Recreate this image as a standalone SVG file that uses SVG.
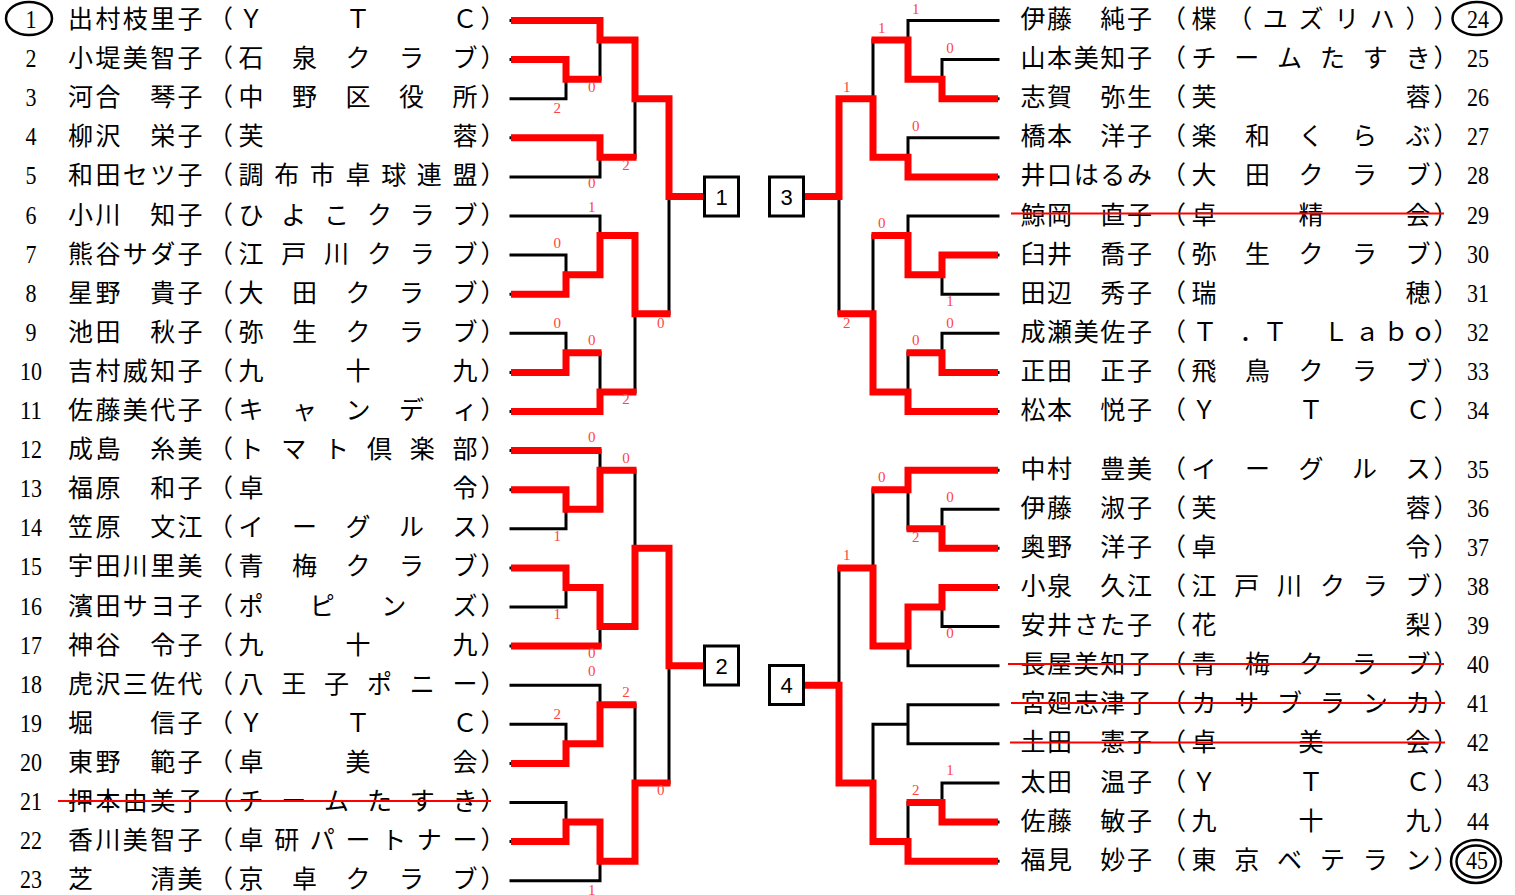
<svg xmlns="http://www.w3.org/2000/svg" width="1515" height="895" viewBox="0 0 1515 895">
<style>
.no{font-family:"Liberation Serif",serif;font-size:26px;fill:#000;text-anchor:middle}
.tx{font-family:"Liberation Serif","Noto Sans CJK JP",sans-serif;font-size:25px;fill:#000;text-anchor:middle}
.sc{font-family:"Liberation Serif",serif;font-size:15px;fill:#f44;text-anchor:middle}
.bx rect{fill:#fff;stroke:#000;stroke-width:3}
.bx text{font-family:"Liberation Sans",sans-serif;font-size:22px;fill:#000;text-anchor:middle}
.bk{stroke:#000;stroke-width:3;fill:none;stroke-linecap:square}
.rd{stroke:#f00;stroke-width:7;fill:none;stroke-linejoin:miter;stroke-linecap:butt}
.st{stroke:#f00;stroke-width:2}
.ring{fill:none;stroke:#000;stroke-width:2.5}
</style>
<rect width="1515" height="895" fill="#fff"/>
<g id="connectors">
<path class="bk" d="M511 20.5H600M511 59.6H566M511 98.7H566M511 137.8H600M511 176.9H600M511 216H600M511 255.1H566M511 294.2H566M511 333.3H566M511 372.4H566M511 411.5H600M511 450.6H600M511 489.7H566M511 528.8H566M511 567.9H566M511 607H566M511 646.1H600M511 685.2H600M511 724.3H566M511 763.4H566M511 802.5H566M511 841.6H566M511 880.7H600
M566 59.6V98.7M566 79.15H600M566 255.1V294.2M566 274.65H600M566 333.3V372.4M566 352.85H600M566 489.7V528.8M566 509.25H600M566 567.9V607M566 587.45H600M566 724.3V763.4M566 743.85H600M566 802.5V841.6M566 822.05H600
M600 20.5V79.15M600 40.05H635M600 137.8V176.9M600 157.35H635M600 216V274.65M600 235.55H635M600 352.85V411.5M600 391.95H635M600 450.6V509.25M600 470.15H635M600 587.45V646.1M600 626.55H635M600 685.2V743.85M600 704.75H635M600 822.05V880.7M600 861.15H635
M635 40.05V157.35M635 98.7H669M635 235.55V391.95M635 313.75H669M635 470.15V626.55M635 548.35H669M635 704.75V861.15M635 782.95H669
M669 98.7V313.75M669 196.45H704M669 548.35V782.95M669 665.65H704
M998 20.5H908M998 59.6H942M998 98.7H942M998 137.8H908M998 176.9H908M998 216H908M998 255.1H942M998 294.2H942M998 333.3H942M998 372.4H942M998 411.5H908M998 470.15H908M998 509.25H942M998 548.35H942M998 587.45H942M998 626.55H942M998 665.65H908M998 704.75H908M998 743.85H908M998 782.95H942M998 822.05H942M998 861.15H908
M942 59.6V98.7M942 79.15H908M942 255.1V294.2M942 274.65H908M942 333.3V372.4M942 352.85H908M942 509.25V548.35M942 528.8H908M942 587.45V626.55M942 607H908M942 782.95V822.05M942 802.5H908
M908 20.5V79.15M908 40.05H873M908 137.8V176.9M908 157.35H873M908 216V274.65M908 235.55H873M908 352.85V411.5M908 391.95H873M908 470.15V528.8M908 489.7H873M908 607V665.65M908 646.1H873M908 704.75V743.85M908 724.3H873M908 802.5V861.15M908 841.6H873
M873 40.05V157.35M873 98.7H839M873 235.55V391.95M873 313.75H839M873 489.7V646.1M873 567.9H839M873 724.3V841.6M873 782.95H839
M839 98.7V313.75M839 196.45H804M839 567.9V782.95M839 685.2H804"/>
<path class="rd" d="M511 20.5H600V40.05H635V98.7H669V196.45H704"/>
<path class="rd" d="M511 59.6H566V79.15H601.5"/>
<path class="rd" d="M511 137.8H600V157.35H636.5"/>
<path class="rd" d="M511 294.2H566V274.65H600V235.55H635V313.75H670.5"/>
<path class="rd" d="M511 372.4H566V352.85H601.5"/>
<path class="rd" d="M511 411.5H600V391.95H636.5"/>
<path class="rd" d="M511 450.6H601.5"/>
<path class="rd" d="M511 489.7H566V509.25H600V470.15H636.5"/>
<path class="rd" d="M511 567.9H566V587.45H600V626.55H635V548.35H669V665.65H704"/>
<path class="rd" d="M511 646.1H601.5"/>
<path class="rd" d="M511 763.4H566V743.85H600V704.75H636.5"/>
<path class="rd" d="M511 841.6H566V822.05H600V861.15H635V782.95H670.5"/>
<path class="rd" d="M998 98.7H942V79.15H908V40.05H871.5"/>
<path class="rd" d="M998 176.9H908V157.35H873V98.7H839V196.45H804"/>
<path class="rd" d="M998 255.1H942V274.65H908V235.55H871.5"/>
<path class="rd" d="M998 372.4H942V352.85H906.5"/>
<path class="rd" d="M998 411.5H908V391.95H873V313.75H837.5"/>
<path class="rd" d="M998 470.15H908V489.7H871.5"/>
<path class="rd" d="M998 548.35H942V528.8H906.5"/>
<path class="rd" d="M998 587.45H942V607H908V646.1H873V567.9H837.5"/>
<path class="rd" d="M998 822.05H942V802.5H906.5"/>
<path class="rd" d="M998 861.15H908V841.6H873V782.95H839V685.2H804"/>
<g id="scores">
<text class="sc" x="591.7" y="92.3">0</text><text class="sc" x="557.3" y="113.3">2</text><text class="sc" x="626" y="170">2</text><text class="sc" x="591.7" y="188.3">0</text><text class="sc" x="591.7" y="211.7">1</text><text class="sc" x="557.3" y="247.7">0</text><text class="sc" x="660.7" y="328.3">0</text><text class="sc" x="557.3" y="328.3">0</text><text class="sc" x="591.7" y="345">0</text><text class="sc" x="626" y="404">2</text><text class="sc" x="591.7" y="441.7">0</text><text class="sc" x="626" y="463.3">0</text><text class="sc" x="557.3" y="541">1</text><text class="sc" x="557.3" y="619.3">1</text><text class="sc" x="591.7" y="657.7">0</text><text class="sc" x="591.7" y="675.7">0</text><text class="sc" x="626" y="697.3">2</text><text class="sc" x="557.3" y="719">2</text><text class="sc" x="660.7" y="795">0</text><text class="sc" x="591.7" y="895">1</text>
<text class="sc" x="915.7" y="14.3">1</text><text class="sc" x="881.7" y="33.3">1</text><text class="sc" x="950" y="53.3">0</text><text class="sc" x="846.7" y="92.3">1</text><text class="sc" x="915.7" y="131">0</text><text class="sc" x="881.7" y="227.7">0</text><text class="sc" x="950" y="306">1</text><text class="sc" x="846.7" y="328.3">2</text><text class="sc" x="950" y="328.3">0</text><text class="sc" x="915.7" y="345">0</text><text class="sc" x="881.7" y="481.7">0</text><text class="sc" x="950" y="501.7">0</text><text class="sc" x="915.7" y="541.7">2</text><text class="sc" x="846.7" y="560">1</text><text class="sc" x="950" y="637.7">0</text><text class="sc" x="950" y="775">1</text><text class="sc" x="915.7" y="795">2</text>
</g>
</g>
<g id="box1" class="bx"><rect x="704.5" y="177" width="34" height="39"/><text x="721.5" y="204.5">1</text></g>
<g id="box2" class="bx"><rect x="704.5" y="646" width="34" height="39"/><text x="721.5" y="673.5">2</text></g>
<g id="box3" class="bx"><rect x="769.5" y="177" width="34" height="39"/><text x="786.5" y="204.5">3</text></g>
<g id="box4" class="bx"><rect x="769.5" y="665.5" width="34" height="39"/><text x="786.5" y="693">4</text></g>

<g id="p1"><ellipse class="ring" cx="29" cy="18.5" rx="23" ry="16.5"/><text class="no" x="31" y="28" textLength="11" lengthAdjust="spacingAndGlyphs">1</text><text class="tx" x="80.5 107.9 135.3 162.7 190.1 220.5 251 358 465 493" y="28">出村枝里子（ＹＴＣ）</text></g>
<g id="p2"><text class="no" x="31" y="67.1" textLength="11" lengthAdjust="spacingAndGlyphs">2</text><text class="tx" x="80.5 107.9 135.3 162.7 190.1 220.5 251 304.5 358 411.5 465 493" y="67.1">小堤美智子（石泉クラブ）</text></g>
<g id="p3"><text class="no" x="31" y="106.2" textLength="11" lengthAdjust="spacingAndGlyphs">3</text><text class="tx" x="80.5 107.9 135.3 162.7 190.1 220.5 251 304.5 358 411.5 465 493" y="106.2">河合　琴子（中野区役所）</text></g>
<g id="p4"><text class="no" x="31" y="145.3" textLength="11" lengthAdjust="spacingAndGlyphs">4</text><text class="tx" x="80.5 107.9 135.3 162.7 190.1 220.5 251 465 493" y="145.3">柳沢　栄子（芙蓉）</text></g>
<g id="p5"><text class="no" x="31" y="184.4" textLength="11" lengthAdjust="spacingAndGlyphs">5</text><text class="tx" x="80.5 107.9 135.3 162.7 190.1 220.5 251 286.7 322.3 358 393.7 429.3 465 493" y="184.4">和田セツ子（調布市卓球連盟）</text></g>
<g id="p6"><text class="no" x="31" y="223.5" textLength="11" lengthAdjust="spacingAndGlyphs">6</text><text class="tx" x="80.5 107.9 135.3 162.7 190.1 220.5 251 293.8 336.6 379.4 422.2 465 493" y="223.5">小川　知子（ひよこクラブ）</text></g>
<g id="p7"><text class="no" x="31" y="262.6" textLength="11" lengthAdjust="spacingAndGlyphs">7</text><text class="tx" x="80.5 107.9 135.3 162.7 190.1 220.5 251 293.8 336.6 379.4 422.2 465 493" y="262.6">熊谷サダ子（江戸川クラブ）</text></g>
<g id="p8"><text class="no" x="31" y="301.7" textLength="11" lengthAdjust="spacingAndGlyphs">8</text><text class="tx" x="80.5 107.9 135.3 162.7 190.1 220.5 251 304.5 358 411.5 465 493" y="301.7">星野　貴子（大田クラブ）</text></g>
<g id="p9"><text class="no" x="31" y="340.8" textLength="11" lengthAdjust="spacingAndGlyphs">9</text><text class="tx" x="80.5 107.9 135.3 162.7 190.1 220.5 251 304.5 358 411.5 465 493" y="340.8">池田　秋子（弥生クラブ）</text></g>
<g id="p10"><text class="no" x="31" y="379.9" textLength="22" lengthAdjust="spacingAndGlyphs">10</text><text class="tx" x="80.5 107.9 135.3 162.7 190.1 220.5 251 358 465 493" y="379.9">吉村威知子（九十九）</text></g>
<g id="p11"><text class="no" x="31" y="419" textLength="22" lengthAdjust="spacingAndGlyphs">11</text><text class="tx" x="80.5 107.9 135.3 162.7 190.1 220.5 251 304.5 358 411.5 465 493" y="419">佐藤美代子（キャンディ）</text></g>
<g id="p12"><text class="no" x="31" y="458.1" textLength="22" lengthAdjust="spacingAndGlyphs">12</text><text class="tx" x="80.5 107.9 135.3 162.7 190.1 220.5 251 293.8 336.6 379.4 422.2 465 493" y="458.1">成島　糸美（トマト倶楽部）</text></g>
<g id="p13"><text class="no" x="31" y="497.2" textLength="22" lengthAdjust="spacingAndGlyphs">13</text><text class="tx" x="80.5 107.9 135.3 162.7 190.1 220.5 251 465 493" y="497.2">福原　和子（卓令）</text></g>
<g id="p14"><text class="no" x="31" y="536.3" textLength="22" lengthAdjust="spacingAndGlyphs">14</text><text class="tx" x="80.5 107.9 135.3 162.7 190.1 220.5 251 304.5 358 411.5 465 493" y="536.3">笠原　文江（イーグルス）</text></g>
<g id="p15"><text class="no" x="31" y="575.4" textLength="22" lengthAdjust="spacingAndGlyphs">15</text><text class="tx" x="80.5 107.9 135.3 162.7 190.1 220.5 251 304.5 358 411.5 465 493" y="575.4">宇田川里美（青梅クラブ）</text></g>
<g id="p16"><text class="no" x="31" y="614.5" textLength="22" lengthAdjust="spacingAndGlyphs">16</text><text class="tx" x="80.5 107.9 135.3 162.7 190.1 220.5 251 322.3 393.7 465 493" y="614.5">濱田サヨ子（ポピンズ）</text></g>
<g id="p17"><text class="no" x="31" y="653.6" textLength="22" lengthAdjust="spacingAndGlyphs">17</text><text class="tx" x="80.5 107.9 135.3 162.7 190.1 220.5 251 358 465 493" y="653.6">神谷　令子（九十九）</text></g>
<g id="p18"><text class="no" x="31" y="692.7" textLength="22" lengthAdjust="spacingAndGlyphs">18</text><text class="tx" x="80.5 107.9 135.3 162.7 190.1 220.5 251 293.8 336.6 379.4 422.2 465 493" y="692.7">虎沢三佐代（八王子ポニー）</text></g>
<g id="p19"><text class="no" x="31" y="731.8" textLength="22" lengthAdjust="spacingAndGlyphs">19</text><text class="tx" x="80.5 107.9 135.3 162.7 190.1 220.5 251 358 465 493" y="731.8">堀　　信子（ＹＴＣ）</text></g>
<g id="p20"><text class="no" x="31" y="770.9" textLength="22" lengthAdjust="spacingAndGlyphs">20</text><text class="tx" x="80.5 107.9 135.3 162.7 190.1 220.5 251 358 465 493" y="770.9">東野　範子（卓美会）</text></g>
<g id="p21"><text class="no" x="31" y="810" textLength="22" lengthAdjust="spacingAndGlyphs">21</text><text class="tx" x="80.5 107.9 135.3 162.7 190.1 220.5 251 293.8 336.6 379.4 422.2 465 493" y="810">押本由美子（チームたすき）</text><line class="st" x1="58" y1="801" x2="491" y2="801"/></g>
<g id="p22"><text class="no" x="31" y="849.1" textLength="22" lengthAdjust="spacingAndGlyphs">22</text><text class="tx" x="80.5 107.9 135.3 162.7 190.1 220.5 251 286.7 322.3 358 393.7 429.3 465 493" y="849.1">香川美智子（卓研パートナー）</text></g>
<g id="p23"><text class="no" x="31" y="888.2" textLength="22" lengthAdjust="spacingAndGlyphs">23</text><text class="tx" x="80.5 107.9 135.3 162.7 190.1 220.5 251 304.5 358 411.5 465 493" y="888.2">芝　　清美（京卓クラブ）</text></g>

<g id="p24"><ellipse class="ring" cx="1477" cy="18.5" rx="24.5" ry="16.5"/><text class="no" x="1478" y="28" textLength="22" lengthAdjust="spacingAndGlyphs">24</text><text class="tx" x="1033 1059.6 1086.2 1112.8 1139.4 1173.5 1204 1239.7 1275.3 1311 1346.7 1382.3 1418 1446" y="28">伊藤　純子（楪（ユズリハ））</text></g>
<g id="p25"><text class="no" x="1478" y="67.1" textLength="22" lengthAdjust="spacingAndGlyphs">25</text><text class="tx" x="1033 1059.6 1086.2 1112.8 1139.4 1173.5 1204 1246.8 1289.6 1332.4 1375.2 1418 1446" y="67.1">山本美知子（チームたすき）</text></g>
<g id="p26"><text class="no" x="1478" y="106.2" textLength="22" lengthAdjust="spacingAndGlyphs">26</text><text class="tx" x="1033 1059.6 1086.2 1112.8 1139.4 1173.5 1204 1418 1446" y="106.2">志賀　弥生（芙蓉）</text></g>
<g id="p27"><text class="no" x="1478" y="145.3" textLength="22" lengthAdjust="spacingAndGlyphs">27</text><text class="tx" x="1033 1059.6 1086.2 1112.8 1139.4 1173.5 1204 1257.5 1311 1364.5 1418 1446" y="145.3">橋本　洋子（楽和くらぶ）</text></g>
<g id="p28"><text class="no" x="1478" y="184.4" textLength="22" lengthAdjust="spacingAndGlyphs">28</text><text class="tx" x="1033 1059.6 1086.2 1112.8 1139.4 1173.5 1204 1257.5 1311 1364.5 1418 1446" y="184.4">井口はるみ（大田クラブ）</text></g>
<g id="p29"><text class="no" x="1478" y="223.5" textLength="22" lengthAdjust="spacingAndGlyphs">29</text><text class="tx" x="1033 1059.6 1086.2 1112.8 1139.4 1173.5 1204 1311 1418 1446" y="223.5">鯨岡　直子（卓精会）</text><line class="st" x1="1011" y1="213.5" x2="1444" y2="213.5"/></g>
<g id="p30"><text class="no" x="1478" y="262.6" textLength="22" lengthAdjust="spacingAndGlyphs">30</text><text class="tx" x="1033 1059.6 1086.2 1112.8 1139.4 1173.5 1204 1257.5 1311 1364.5 1418 1446" y="262.6">臼井　喬子（弥生クラブ）</text></g>
<g id="p31"><text class="no" x="1478" y="301.7" textLength="22" lengthAdjust="spacingAndGlyphs">31</text><text class="tx" x="1033 1059.6 1086.2 1112.8 1139.4 1173.5 1204 1418 1446" y="301.7">田辺　秀子（瑞穂）</text></g>
<g id="p32"><text class="no" x="1478" y="340.8" textLength="22" lengthAdjust="spacingAndGlyphs">32</text><text class="tx" x="1033 1059.6 1086.2 1112.8 1139.4 1173.5 1205 1252 1275 1305 1336 1367 1396 1423 1446" y="340.8">成瀬美佐子（Ｔ．Ｔ　Ｌａｂｏ）</text></g>
<g id="p33"><text class="no" x="1478" y="379.9" textLength="22" lengthAdjust="spacingAndGlyphs">33</text><text class="tx" x="1033 1059.6 1086.2 1112.8 1139.4 1173.5 1204 1257.5 1311 1364.5 1418 1446" y="379.9">正田　正子（飛鳥クラブ）</text></g>
<g id="p34"><text class="no" x="1478" y="419" textLength="22" lengthAdjust="spacingAndGlyphs">34</text><text class="tx" x="1033 1059.6 1086.2 1112.8 1139.4 1173.5 1204 1311 1418 1446" y="419">松本　悦子（ＹＴＣ）</text></g>
<g id="p35"><text class="no" x="1478" y="477.7" textLength="22" lengthAdjust="spacingAndGlyphs">35</text><text class="tx" x="1033 1059.6 1086.2 1112.8 1139.4 1173.5 1204 1257.5 1311 1364.5 1418 1446" y="477.7">中村　豊美（イーグルス）</text></g>
<g id="p36"><text class="no" x="1478" y="516.8" textLength="22" lengthAdjust="spacingAndGlyphs">36</text><text class="tx" x="1033 1059.6 1086.2 1112.8 1139.4 1173.5 1204 1418 1446" y="516.8">伊藤　淑子（芙蓉）</text></g>
<g id="p37"><text class="no" x="1478" y="555.9" textLength="22" lengthAdjust="spacingAndGlyphs">37</text><text class="tx" x="1033 1059.6 1086.2 1112.8 1139.4 1173.5 1204 1418 1446" y="555.9">奥野　洋子（卓令）</text></g>
<g id="p38"><text class="no" x="1478" y="595" textLength="22" lengthAdjust="spacingAndGlyphs">38</text><text class="tx" x="1033 1059.6 1086.2 1112.8 1139.4 1173.5 1204 1246.8 1289.6 1332.4 1375.2 1418 1446" y="595">小泉　久江（江戸川クラブ）</text></g>
<g id="p39"><text class="no" x="1478" y="634.1" textLength="22" lengthAdjust="spacingAndGlyphs">39</text><text class="tx" x="1033 1059.6 1086.2 1112.8 1139.4 1173.5 1204 1418 1446" y="634.1">安井さた子（花梨）</text></g>
<g id="p40"><text class="no" x="1478" y="673.2" textLength="22" lengthAdjust="spacingAndGlyphs">40</text><text class="tx" x="1033 1059.6 1086.2 1112.8 1139.4 1173.5 1204 1257.5 1311 1364.5 1418 1446" y="673.2">長屋美知子（青梅クラブ）</text><line class="st" x1="1008" y1="664" x2="1444" y2="664"/></g>
<g id="p41"><text class="no" x="1478" y="712.3" textLength="22" lengthAdjust="spacingAndGlyphs">41</text><text class="tx" x="1033 1059.6 1086.2 1112.8 1139.4 1173.5 1204 1246.8 1289.6 1332.4 1375.2 1418 1446" y="712.3">宮廻志津子（カサブランカ）</text><line class="st" x1="1011" y1="703" x2="1445" y2="703"/></g>
<g id="p42"><text class="no" x="1478" y="751.4" textLength="22" lengthAdjust="spacingAndGlyphs">42</text><text class="tx" x="1033 1059.6 1086.2 1112.8 1139.4 1173.5 1204 1311 1418 1446" y="751.4">土田　憲子（卓美会）</text><line class="st" x1="1010" y1="742.5" x2="1445" y2="742.5"/></g>
<g id="p43"><text class="no" x="1478" y="790.5" textLength="22" lengthAdjust="spacingAndGlyphs">43</text><text class="tx" x="1033 1059.6 1086.2 1112.8 1139.4 1173.5 1204 1311 1418 1446" y="790.5">太田　温子（ＹＴＣ）</text></g>
<g id="p44"><text class="no" x="1478" y="829.6" textLength="22" lengthAdjust="spacingAndGlyphs">44</text><text class="tx" x="1033 1059.6 1086.2 1112.8 1139.4 1173.5 1204 1311 1418 1446" y="829.6">佐藤　敏子（九十九）</text></g>
<g id="p45"><ellipse class="ring" cx="1476" cy="861.5" rx="25" ry="21.5"/><ellipse class="ring" cx="1476" cy="861.5" rx="19.5" ry="16"/><text class="no" x="1477" y="868.7" textLength="22" lengthAdjust="spacingAndGlyphs">45</text><text class="tx" x="1033 1059.6 1086.2 1112.8 1139.4 1173.5 1204 1246.8 1289.6 1332.4 1375.2 1418 1446" y="868.7">福見　妙子（東京ベテラン）</text></g>
</svg>
